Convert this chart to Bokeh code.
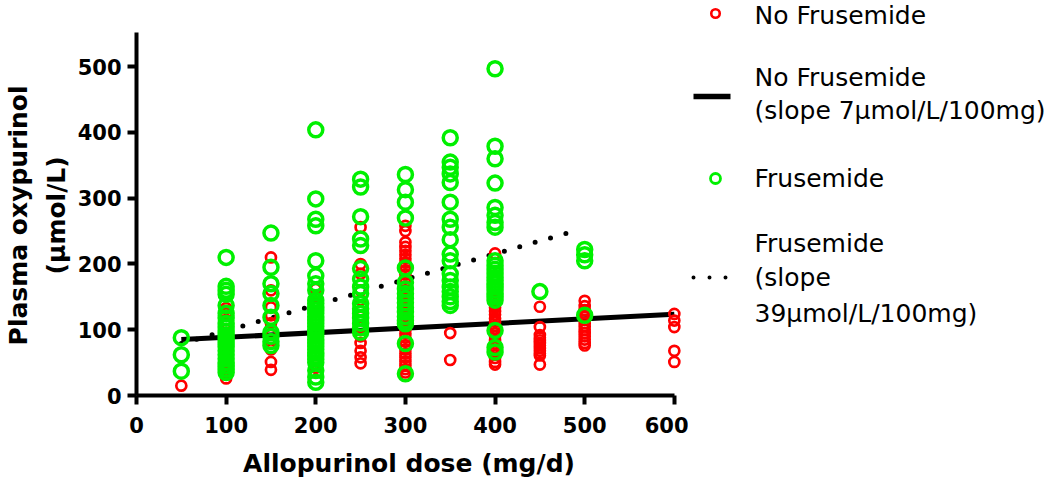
from bokeh.plotting import figure
from bokeh.layouts import row
from bokeh.models import FixedTicker, Range1d
from bokeh.core.properties import value
from bokeh.embed import file_html
from bokeh.resources import INLINE

# ---------------- data ----------------
doses = [50, 100, 150, 200, 250, 300, 350, 400, 450, 500, 600]

# No Frusemide (red) plasma oxypurinol per dose
red_050 = [15]
red_100 = [133, 125, 115, 100, 90, 76, 65, 55, 45, 35, 26]
red_150 = [210, 160, 134, 122, 110, 92, 80, 70, 51, 39]
red_200 = [162, 150, 140, 128, 115, 100, 88, 75, 62, 48, 42]
red_250 = [256, 200, 185, 160, 145, 120, 105, 90, 80, 68, 58, 49]
red_300 = [258, 250, 233, 226, 220, 214, 208, 202, 196, 190, 184, 178, 172,
           166, 160, 154, 148, 142, 136, 130, 124, 118, 112, 106, 100, 94, 88,
           82, 76, 70, 64, 58, 52, 46, 40, 35, 30]
red_350 = [95, 54]
red_400 = [216, 150, 145, 139, 134, 128, 123, 117, 112, 106, 101, 95, 90, 84,
           79, 73, 68, 62, 57, 51, 47]
red_450 = [135, 104, 92, 88, 84, 80, 76, 72, 68, 64, 61, 47]
red_500 = [144, 136, 130, 125, 120, 115, 110, 105, 100, 95, 90, 85, 80, 76]
red_600 = [124, 114, 104, 68, 51]

# Frusemide (green) plasma oxypurinol per dose
grn_050 = [88, 62, 37]
grn_100 = [210, 166, 160, 154, 137, 125, 118, 110, 104, 98, 92, 86, 80, 74,
           68, 62, 56, 50, 45, 40, 35]
grn_150 = [247, 195, 170, 155, 137, 119, 96, 90, 82, 76]
grn_200 = [404, 299, 268, 258, 205, 182, 170, 160, 145, 140, 135, 130, 125,
           120, 115, 110, 105, 100, 95, 90, 85, 80, 75, 70, 65, 60, 55, 50,
           38, 28, 20]
grn_250 = [329, 317, 272, 238, 228, 193, 177, 165, 155, 140, 132, 125, 118, 110, 103, 96]
grn_300 = [336, 313, 294, 270, 194, 172, 162, 155, 148, 141, 134, 127, 120,
           114, 109, 79, 33]
grn_350 = [392, 355, 347, 337, 324, 294, 268, 256, 237, 215, 205, 185, 175,
           165, 158, 150, 143, 137]
grn_400 = [497, 379, 360, 323, 286, 274, 263, 256, 205, 198, 192, 186, 180,
           175, 170, 165, 160, 155, 150, 145, 99, 73, 66]
grn_450 = [158]
grn_500 = [222, 214, 205, 122]
grn_600 = []

red_groups = [red_050, red_100, red_150, red_200, red_250, red_300, red_350,
              red_400, red_450, red_500, red_600]
grn_groups = [grn_050, grn_100, grn_150, grn_200, grn_250, grn_300, grn_350,
              grn_400, grn_450, grn_500, grn_600]

# regression lines (intercept umol/L, slope umol/L per 100 mg, fitted dose span)
nf_intercept, nf_slope, nf_span = 81.5, 7, [50, 600]
f_intercept, f_slope, f_span = 59.5, 39, [50, 487]

x_ticks = [0, 100, 200, 300, 400, 500, 600]
y_ticks = [0, 100, 200, 300, 400, 500]
x_title = "Allopurinol dose (mg/d)"
y_title_lines = ["Plasma oxypurinol", "(\u03bcmol/L)"]

legend_labels = [["No Frusemide"],
                 ["No Frusemide", "(slope 7\u03bcmol/L/100mg)"],
                 ["Frusemide"],
                 ["Frusemide", "(slope", "39\u03bcmol/L/100mg)"]]

# ---------------- build ----------------
red_x, red_y, grn_x, grn_y = [], [], [], []
for d, vals in zip(doses, red_groups):
    red_x += [d] * len(vals)
    red_y += vals
for d, vals in zip(doses, grn_groups):
    grn_x += [d] * len(vals)
    grn_y += vals

BFONT = "DejaVu Sans"
RED = "#FF0000"
GREEN = "#00F000"

H = 480
p = figure(width=688, height=H, x_range=Range1d(0, 608), y_range=Range1d(0, 600.7),
           output_backend="svg", toolbar_location=None,
           min_border_left=135, min_border_right=7, min_border_top=0,
           min_border_bottom=85)
p.grid.visible = False
p.outline_line_color = None

nf_y = [nf_intercept + nf_slope * x / 100 for x in nf_span]
f_y = [f_intercept + f_slope * x / 100 for x in f_span]
p.line(nf_span, nf_y, line_color="black", line_width=5)
p.line(f_span, f_y, line_color="black", line_width=5, line_dash="0 16",
       line_cap="round")

p.scatter(red_x, red_y, marker="circle", size=10, fill_color=None,
          line_color=RED, line_width=2.7)
p.scatter(grn_x, grn_y, marker="circle", size=14, fill_color=None,
          line_color=GREEN, line_width=3.5)

for ax in (p.xaxis[0], p.yaxis[0]):
    ax.axis_line_width = 4
    ax.axis_line_color = "black"
    ax.major_tick_line_width = 4
    ax.major_tick_line_color = "black"
    ax.major_tick_out = 9
    ax.major_tick_in = 0
    ax.minor_tick_line_color = None
    ax.major_label_text_font = BFONT
    ax.major_label_text_font_style = "bold"
    ax.major_label_text_font_size = "21px"
    ax.major_label_text_color = "black"
    ax.axis_label_text_font = BFONT
    ax.axis_label_text_font_style = "bold"
    ax.axis_label_text_font_size = "25px"
    ax.axis_label_text_color = "black"

p.xaxis.ticker = FixedTicker(ticks=x_ticks)
p.yaxis.ticker = FixedTicker(ticks=y_ticks)
p.xaxis.bounds = (0, 600)
p.yaxis.bounds = (0, 552)
p.xaxis.axis_label = x_title
p.xaxis.major_label_standoff = 12
p.yaxis.major_label_standoff = 6
p.xaxis.axis_label_standoff = 13

# y title: centred on the frame, which reaches above the axis top; trailing
# no-break spaces move it down to the middle of the drawn axis.
pad = "\u00a0" * 4
p.yaxis.axis_label = "\n".join(t + pad for t in y_title_lines)
p.yaxis.axis_label_text_line_height = 1.3
p.yaxis.axis_label_standoff = 4

# ---------------- legend panel ----------------
lf = figure(width=357, height=H, x_range=Range1d(0, 357), y_range=Range1d(395, 0),
            output_backend="svg", toolbar_location=None, min_border=0,
            x_axis_location=None, y_axis_location=None)
lf.grid.visible = False
lf.outline_line_color = None

gx0, gx1, gxc, tx = 5, 42, 27, 66
lf.scatter([gxc], [13], marker="circle", size=8.5, fill_color=None,
           line_color=RED, line_width=2.6)
lf.line([gx0, gx1], [96, 96], line_color="black", line_width=5.5)
lf.scatter([gxc], [178], marker="circle", size=10, fill_color=None,
           line_color=GREEN, line_width=2.8)
lf.line([gx0, gx1], [277, 277], line_color="black", line_width=4,
        line_dash="0 16", line_cap="round")

text_y = [[15], [77, 110], [178], [243, 277, 313]]
tx_list, ty_list, tt_list = [], [], []
for labels, ys in zip(legend_labels, text_y):
    for t, yy in zip(labels, ys):
        tx_list.append(tx)
        ty_list.append(yy)
        tt_list.append(t)
lf.text(tx_list, ty_list, text=tt_list, text_font=value("DejaVu Sans"),
        text_font_size=value("25px"), text_baseline="middle", text_align="left",
        text_color="black")

layout = row(p, lf)
open("out.html", "w").write(file_html(layout, INLINE))
